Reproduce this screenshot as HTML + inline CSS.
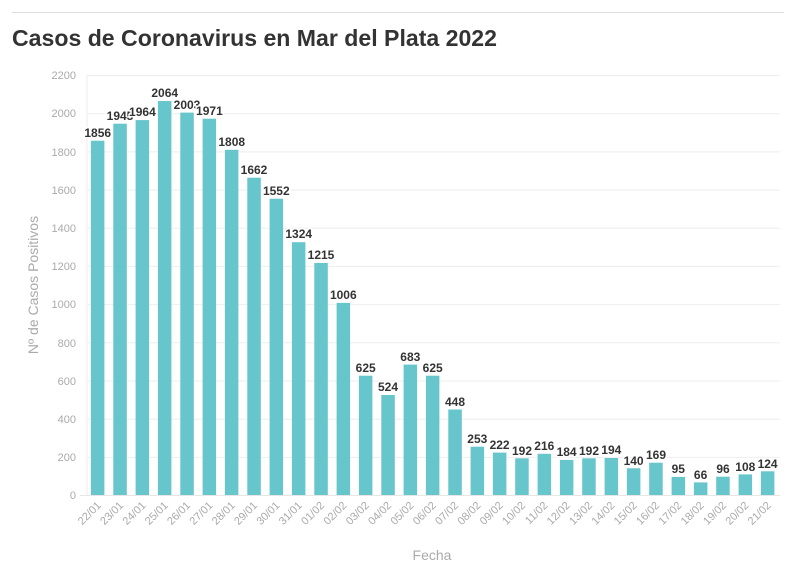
<!DOCTYPE html>
<html><head><meta charset="utf-8"><style>
body{margin:0;background:#fff;}
svg{display:block;font-family:"Liberation Sans",sans-serif;}
.g{stroke:#eee;stroke-width:1}
.yt{fill:#aaa;font-size:11px;text-anchor:end}
.xt{fill:#aaa;font-size:11px;text-anchor:end}
.v{fill:#333;font-size:12px;font-weight:bold;text-anchor:middle;stroke:#fff;stroke-width:3;paint-order:stroke;stroke-linejoin:round}
rect.b{fill:#67c5cc}
</style></head><body>
<svg width="796" height="575" viewBox="0 0 796 575">
<line x1="12" y1="12.5" x2="784" y2="12.5" stroke="#ddd"/>
<text x="12" y="46" font-size="23" font-weight="bold" fill="#333" textLength="485" lengthAdjust="spacingAndGlyphs">Casos de Coronavirus en Mar del Plata 2022</text>
<g>
<line class="g" x1="87" x2="780" y1="75.5" y2="75.5"/><line class="g" x1="87" x2="780" y1="113.7" y2="113.7"/><line class="g" x1="87" x2="780" y1="151.9" y2="151.9"/><line class="g" x1="87" x2="780" y1="190.1" y2="190.1"/><line class="g" x1="87" x2="780" y1="228.3" y2="228.3"/><line class="g" x1="87" x2="780" y1="266.4" y2="266.4"/><line class="g" x1="87" x2="780" y1="304.6" y2="304.6"/><line class="g" x1="87" x2="780" y1="342.8" y2="342.8"/><line class="g" x1="87" x2="780" y1="381" y2="381"/><line class="g" x1="87" x2="780" y1="419.2" y2="419.2"/><line class="g" x1="87" x2="780" y1="457.4" y2="457.4"/>
<line x1="87" x2="87" y1="75" y2="495" stroke="#eee"/>
<line x1="80" x2="780" y1="495.5" y2="495.5" stroke="#e6e6e6"/>
</g>
<g class="yt">
<text x="76" y="79">2200</text><text x="76" y="117">2000</text><text x="76" y="156">1800</text><text x="76" y="194">1600</text><text x="76" y="232">1400</text><text x="76" y="270">1200</text><text x="76" y="308">1000</text><text x="76" y="347">800</text><text x="76" y="385">600</text><text x="76" y="423">400</text><text x="76" y="461">200</text><text x="76" y="499">0</text>
</g>
<text transform="translate(38,285) rotate(-90)" text-anchor="middle" font-size="14" fill="#aaa">Nº de Casos Positivos</text>
<text x="432" y="560" text-anchor="middle" font-size="14" fill="#aaa">Fecha</text>
<g>
<rect class="b" x="90.9" y="140.7" width="13.5" height="354.3"/>
<rect class="b" x="113.3" y="123.7" width="13.5" height="371.3"/>
<rect class="b" x="135.6" y="120.1" width="13.5" height="374.9"/>
<rect class="b" x="157.9" y="101" width="13.5" height="394"/>
<rect class="b" x="180.3" y="112.6" width="13.5" height="382.4"/>
<rect class="b" x="202.6" y="118.7" width="13.5" height="376.3"/>
<rect class="b" x="224.9" y="149.8" width="13.5" height="345.2"/>
<rect class="b" x="247.3" y="177.7" width="13.5" height="317.3"/>
<rect class="b" x="269.6" y="198.7" width="13.5" height="296.3"/>
<rect class="b" x="291.9" y="242.2" width="13.5" height="252.8"/>
<rect class="b" x="314.3" y="263" width="13.5" height="232"/>
<rect class="b" x="336.6" y="302.9" width="13.5" height="192.1"/>
<rect class="b" x="358.9" y="375.7" width="13.5" height="119.3"/>
<rect class="b" x="381.3" y="395" width="13.5" height="100"/>
<rect class="b" x="403.6" y="364.6" width="13.5" height="130.4"/>
<rect class="b" x="425.9" y="375.7" width="13.5" height="119.3"/>
<rect class="b" x="448.3" y="409.5" width="13.5" height="85.5"/>
<rect class="b" x="470.6" y="446.7" width="13.5" height="48.3"/>
<rect class="b" x="492.9" y="452.6" width="13.5" height="42.4"/>
<rect class="b" x="515.2" y="458.3" width="13.5" height="36.7"/>
<rect class="b" x="537.6" y="453.8" width="13.5" height="41.2"/>
<rect class="b" x="559.9" y="459.9" width="13.5" height="35.1"/>
<rect class="b" x="582.2" y="458.3" width="13.5" height="36.7"/>
<rect class="b" x="604.6" y="458" width="13.5" height="37"/>
<rect class="b" x="626.9" y="468.3" width="13.5" height="26.7"/>
<rect class="b" x="649.2" y="462.7" width="13.5" height="32.3"/>
<rect class="b" x="671.6" y="476.9" width="13.5" height="18.1"/>
<rect class="b" x="693.9" y="482.4" width="13.5" height="12.6"/>
<rect class="b" x="716.2" y="476.7" width="13.5" height="18.3"/>
<rect class="b" x="738.6" y="474.4" width="13.5" height="20.6"/>
<rect class="b" x="760.9" y="471.3" width="13.5" height="23.7"/>
</g>
<g class="v">
<text x="97.7" y="137">1856</text>
<text x="120" y="120">1945</text>
<text x="142.4" y="116">1964</text>
<text x="164.7" y="97">2064</text>
<text x="187" y="109">2003</text>
<text x="209.4" y="115">1971</text>
<text x="231.7" y="146">1808</text>
<text x="254" y="174">1662</text>
<text x="276.3" y="195">1552</text>
<text x="298.7" y="238">1324</text>
<text x="321" y="259">1215</text>
<text x="343.3" y="299">1006</text>
<text x="365.7" y="372">625</text>
<text x="388" y="391">524</text>
<text x="410.3" y="361">683</text>
<text x="432.7" y="372">625</text>
<text x="455" y="406">448</text>
<text x="477.3" y="443">253</text>
<text x="499.6" y="449">222</text>
<text x="522" y="455">192</text>
<text x="544.3" y="450">216</text>
<text x="566.6" y="456">184</text>
<text x="589" y="455">192</text>
<text x="611.3" y="454">194</text>
<text x="633.6" y="465">140</text>
<text x="656" y="459">169</text>
<text x="678.3" y="473">95</text>
<text x="700.6" y="479">66</text>
<text x="723" y="473">96</text>
<text x="745.3" y="471">108</text>
<text x="767.6" y="468">124</text>
</g>
<g class="xt">
<text transform="translate(101.7,506) rotate(-45)">22/01</text>
<text transform="translate(124,506) rotate(-45)">23/01</text>
<text transform="translate(146.4,506) rotate(-45)">24/01</text>
<text transform="translate(168.7,506) rotate(-45)">25/01</text>
<text transform="translate(191,506) rotate(-45)">26/01</text>
<text transform="translate(213.4,506) rotate(-45)">27/01</text>
<text transform="translate(235.7,506) rotate(-45)">28/01</text>
<text transform="translate(258,506) rotate(-45)">29/01</text>
<text transform="translate(280.3,506) rotate(-45)">30/01</text>
<text transform="translate(302.7,506) rotate(-45)">31/01</text>
<text transform="translate(325,506) rotate(-45)">01/02</text>
<text transform="translate(347.3,506) rotate(-45)">02/02</text>
<text transform="translate(369.7,506) rotate(-45)">03/02</text>
<text transform="translate(392,506) rotate(-45)">04/02</text>
<text transform="translate(414.3,506) rotate(-45)">05/02</text>
<text transform="translate(436.7,506) rotate(-45)">06/02</text>
<text transform="translate(459,506) rotate(-45)">07/02</text>
<text transform="translate(481.3,506) rotate(-45)">08/02</text>
<text transform="translate(503.6,506) rotate(-45)">09/02</text>
<text transform="translate(526,506) rotate(-45)">10/02</text>
<text transform="translate(548.3,506) rotate(-45)">11/02</text>
<text transform="translate(570.6,506) rotate(-45)">12/02</text>
<text transform="translate(593,506) rotate(-45)">13/02</text>
<text transform="translate(615.3,506) rotate(-45)">14/02</text>
<text transform="translate(637.6,506) rotate(-45)">15/02</text>
<text transform="translate(660,506) rotate(-45)">16/02</text>
<text transform="translate(682.3,506) rotate(-45)">17/02</text>
<text transform="translate(704.6,506) rotate(-45)">18/02</text>
<text transform="translate(727,506) rotate(-45)">19/02</text>
<text transform="translate(749.3,506) rotate(-45)">20/02</text>
<text transform="translate(771.6,506) rotate(-45)">21/02</text>
</g>
</svg>
</body></html>
